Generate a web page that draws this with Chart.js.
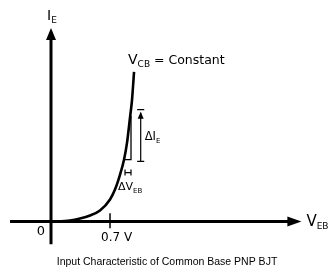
<!DOCTYPE html>
<html><head><meta charset="utf-8">
<script src="https://cdn.jsdelivr.net/npm/chart.js@4/dist/chart.umd.min.js"></script>
<style>html,body{margin:0;padding:0;background:#fff}#wrap{width:334px;height:269px;position:relative}</style>
</head><body><div id="wrap"><canvas id="c"></canvas></div>
<script>
// ---- data (V_EB in volts, I_E in arbitrary mA units) ----
const curveV = [0, 0.225, 0.344, 0.463, 0.581, 0.700, 0.759, 0.819, 0.866, 0.902, 0.937, 0.961, 0.985];
const curveI = [0, 0.07, 0.20, 0.40, 0.73, 1.47, 2.13, 3.13, 4.13, 5.27, 6.93, 8.13, 10.0];
const xAxisV = [-0.486, 2.97];
const yAxisI = [-1.53, 12.93];
const tickV = [0.7];
const tickLabels = ['0.7 V'];
const originLabel = '0';
const triangleV = [0.866, 0.949, 0.949];
const triangleI = [4.13, 4.13, 7.07];
const deltaIV = [1.064];
const deltaII = [4.02, 7.47];
const deltaVI = [3.27];
const deltaVV = [0.878, 0.949];
const titleText = 'Input Characteristic of Common Base PNP BJT';
const curveLabel = ['V', 'CB', ' = Constant'];

const pts = (xs, ys) => xs.map((x, i) => ({x, y: ys[i]}));
const FONT = 'DejaVu Sans';

const base = {showLine: true, pointRadius: 0, borderColor: '#000', backgroundColor: '#000', fill: false};
const capV = 0.042, capI = 0.2, tickH = 0.45;

const datasets = [
  {...base, borderWidth: 3, data: [{x: xAxisV[0], y: 0}, {x: xAxisV[1] - 0.05, y: 0}]},
  {...base, borderWidth: 3, data: [{x: 0, y: yAxisI[0]}, {x: 0, y: yAxisI[1] - 0.3}]},
  {...base, borderWidth: 2.6, cubicInterpolationMode: 'monotone', data: pts(curveV, curveI)},
  {...base, borderWidth: 1.5, data: tickV.flatMap(v => [{x: v, y: -tickH}, {x: v, y: tickH + 0.1}, {x: v, y: null}])},
  {...base, borderWidth: 1.3, data: pts(triangleV, triangleI)},
  {...base, borderWidth: 1.2, data: [{x: deltaIV[0], y: deltaII[0]}, {x: deltaIV[0], y: deltaII[1] - 0.2}]},
  {...base, borderWidth: 1.2, data: [
    {x: deltaIV[0] - capV, y: deltaII[0]}, {x: deltaIV[0] + capV, y: deltaII[0]}, {x: null, y: null},
    {x: deltaIV[0] - capV, y: deltaII[1]}, {x: deltaIV[0] + capV, y: deltaII[1]}]},
  {...base, borderWidth: 1.2, data: [
    {x: deltaVV[0], y: deltaVI[0]}, {x: deltaVV[1], y: deltaVI[0]}, {x: null, y: null},
    {x: deltaVV[0], y: deltaVI[0] - capI}, {x: deltaVV[0], y: deltaVI[0] + capI}, {x: null, y: null},
    {x: deltaVV[1], y: deltaVI[0] - capI}, {x: deltaVV[1], y: deltaVI[0] + capI}]}
];

function rich(ctx, x, y, segs) {
  ctx.textAlign = 'left'; ctx.textBaseline = 'alphabetic';
  for (const s of segs) {
    ctx.font = s.size + 'px "' + FONT + '"';
    ctx.fillText(s.t, x, y + (s.sub ? 3 : 0));
    x += ctx.measureText(s.t).width;
  }
}
function arrow(ctx, tx, ty, dir, len, half) {
  ctx.beginPath();
  if (dir === 'up') { ctx.moveTo(tx, ty); ctx.lineTo(tx - half, ty + len); ctx.lineTo(tx + half, ty + len); }
  else { ctx.moveTo(tx, ty); ctx.lineTo(tx - len, ty - half); ctx.lineTo(tx - len, ty + half); }
  ctx.closePath(); ctx.fill();
}

const deco = {
  id: 'deco',
  afterDatasetsDraw(chart) {
    const ctx = chart.ctx, X = chart.scales.x, Y = chart.scales.y;
    const px = v => X.getPixelForValue(v), py = v => Y.getPixelForValue(v);
    ctx.save(); ctx.fillStyle = '#000';
    const ox = px(0), oy = py(0);
    const xt = px(xAxisV[1]), yt = py(yAxisI[1]);
    arrow(ctx, xt, oy, 'right', 14, 5);
    arrow(ctx, ox, yt, 'up', 12, 5);
    arrow(ctx, px(deltaIV[0]), py(deltaII[1]) + 2, 'up', 7, 3);
    rich(ctx, ox - 4, yt - 8, [{t: 'I', size: 14}, {t: 'E', size: 9, sub: true}]);
    rich(ctx, xt + 5, oy + 5, [{t: 'V', size: 15}, {t: 'EB', size: 9, sub: true}]);
    const cx = px(curveV[curveV.length - 1]), cy = py(curveI[curveI.length - 1]);
    rich(ctx, cx - 6, cy - 8, [{t: curveLabel[0], size: 14}, {t: curveLabel[1], size: 9, sub: true}, {t: curveLabel[2], size: 12.5}]);
    const dIy = (py(deltaII[0]) + py(deltaII[1])) / 2;
    rich(ctx, px(deltaIV[0]) + 4, dIy + 5, [{t: '\u0394I', size: 11.5}, {t: 'E', size: 7, sub: true}]);
    rich(ctx, px(deltaVV[0]) - 7, py(deltaVI[0]) + 17, [{t: '\u0394V', size: 11}, {t: 'EB', size: 7, sub: true}]);
    ctx.font = '13px "' + FONT + '"'; ctx.textAlign = 'center'; ctx.textBaseline = 'middle';
    ctx.fillText(originLabel, ox - 10, oy + 10);
    ctx.font = '12px "' + FONT + '"'; ctx.textAlign = 'left';
    tickV.forEach((v, i) => ctx.fillText(tickLabels[i], px(v) - 9, oy + 16));
    ctx.restore();
  }
};

new Chart(document.getElementById('c'), {
  type: 'scatter',
  data: {datasets},
  options: {
    responsive: true, maintainAspectRatio: false, animation: false, devicePixelRatio: 1,
    layout: {padding: 0},
    scales: {
      x: {type: 'linear', min: -0.605, max: 3.357, display: false},
      y: {type: 'linear', min: -1.867, max: 14.8, display: false}
    },
    plugins: {
      legend: {display: false}, tooltip: {enabled: false},
      title: {display: true, position: 'bottom', text: titleText, color: '#000',
              font: {family: 'Liberation Sans', size: 10.5, weight: 'normal'}, padding: {top: 6, bottom: 1}}
    }
  },
  plugins: [deco]
});
</script></body></html>
